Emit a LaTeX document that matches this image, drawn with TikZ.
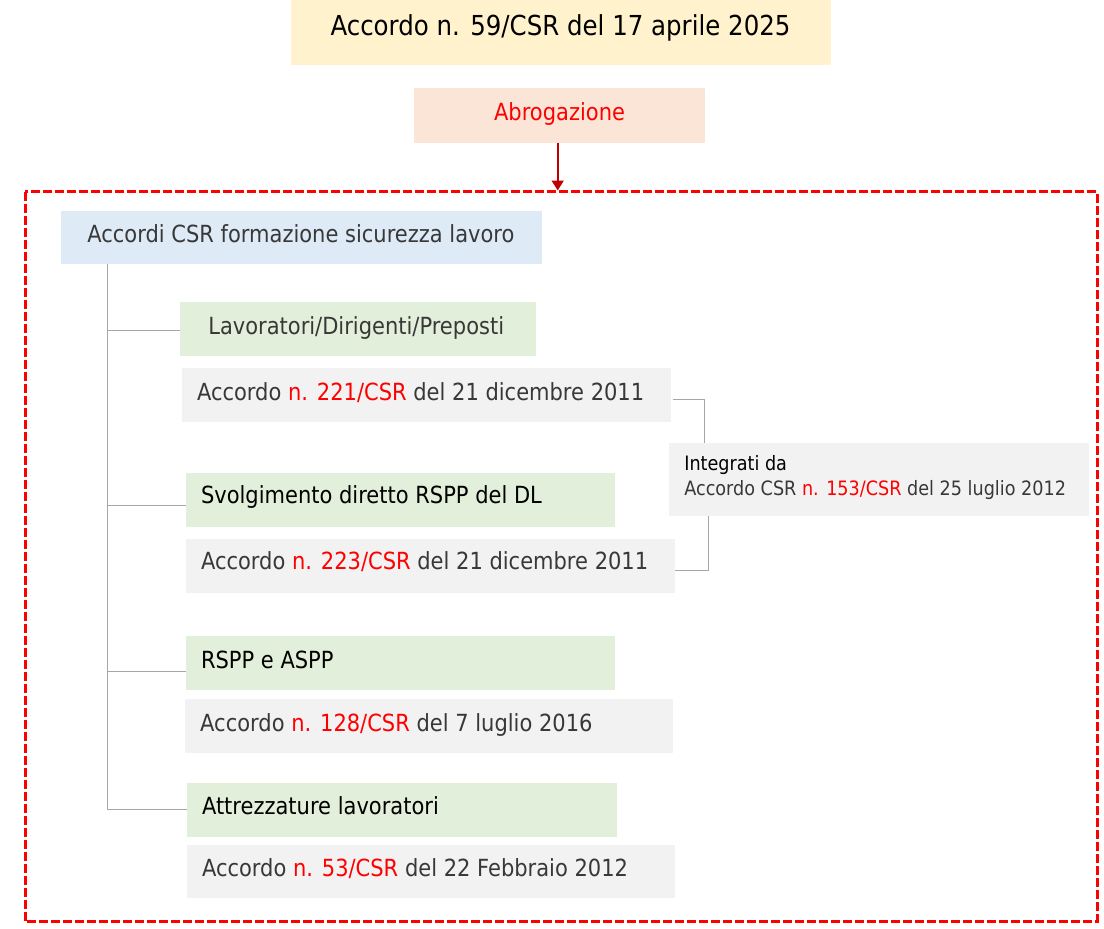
\documentclass[tikz,border=0pt]{standalone}
\usepackage{fontspec}
\setmainfont{DejaVu Sans}[FakeStretch=0.89]
\usetikzlibrary{arrows.meta}
\definecolor{cTitle}{HTML}{FFF2CC}
\definecolor{cAbr}{HTML}{FBE5D6}
\definecolor{cBlue}{HTML}{DEEBF7}
\definecolor{cGreen}{HTML}{E2EFDA}
\definecolor{cGray}{HTML}{F2F2F2}
\definecolor{tGray}{HTML}{383838}
\definecolor{cRed}{HTML}{FF0000}
\definecolor{cDark}{HTML}{C00000}
\definecolor{cLine}{HTML}{A6A6A6}
\tikzset{
  bx/.style={rectangle, draw=none, inner sep=0pt, outer sep=0pt, anchor=north west},
  tx/.style={inner sep=0pt, outer sep=0pt, anchor=base west, font=\fontsize{23.6}{28}\selectfont},
  smalltx/.style={tx, font=\fontsize{19.8}{24}\selectfont},
  treeline/.style={draw=cLine, line width=1pt},
  frame/.style={draw=cRed, line width=3pt, dash pattern=on 9pt off 3pt},
}
\newcommand{\rd}[1]{\textcolor{cRed}{#1}}
\begin{document}
\begin{tikzpicture}[x=1pt, y=-1pt]
\useasboundingbox (0,0) rectangle (1104,929);
% frame
\draw[frame] (25,191.7) rectangle (1097,921.3);
% title
\node[bx, fill=cTitle, minimum width=540pt, minimum height=65.3pt] (title) at (291,0) {};
\node[tx, anchor=base, font=\fontsize{27.5}{32}\selectfont] (titleT) at (560.5,35) {Accordo n. 59/CSR del 17 aprile 2025};
% abrogazione
\node[bx, fill=cAbr, minimum width=291pt, minimum height=54.4pt] (abr) at (414,88.3) {};
\node[tx, anchor=base, text=cRed] (abrT) at (559.5,120) {Abrogazione};
\coordinate (arrEnd) at (557.7,190.5);
\draw[cDark, line width=1.8pt, -{Triangle[width=12pt,length=10pt]}] (abr.south -| arrEnd) -- (arrEnd);
% root
\node[bx, fill=cBlue, minimum width=481pt, minimum height=53.3pt] (root) at (61,211) {};
\node[tx, text=tGray] (rootT) at (87.3,242.7) {Accordi CSR formazione sicurezza lavoro};
% level boxes
\node[bx, fill=cGreen, minimum width=356pt, minimum height=53.4pt] (lav) at (180,302.3) {};
\node[tx, text=tGray] (lavT) at (208.3,334) {Lavoratori/Dirigenti/Preposti};
\node[bx, fill=cGray, minimum width=489pt, minimum height=53.7pt] (a221) at (181.7,368) {};
\node[tx, text=tGray] (a221T) at (197,400) {Accordo \rd{n. 221/CSR} del 21 dicembre 2011};

\node[bx, fill=cGreen, minimum width=428.7pt, minimum height=53.7pt] (svol) at (186,473) {};
\node[tx, text=black] (svolT) at (201,503.3) {Svolgimento diretto RSPP del DL};
\node[bx, fill=cGray, minimum width=489pt, minimum height=53.7pt] (a223) at (186,539) {};
\node[tx, text=tGray] (a223T) at (201,569.3) {Accordo \rd{n. 223/CSR} del 21 dicembre 2011};

\node[bx, fill=cGreen, minimum width=428.7pt, minimum height=53.7pt] (rspp) at (186,636) {};
\node[tx, text=black] (rsppT) at (201,668.3) {RSPP e ASPP};
\node[bx, fill=cGray, minimum width=488pt, minimum height=53.7pt] (a128) at (185,699) {};
\node[tx, text=tGray] (a128T) at (200.2,731.7) {Accordo \rd{n. 128/CSR} del 7 luglio 2016};

\node[bx, fill=cGreen, minimum width=429.7pt, minimum height=53.4pt] (attr) at (187,783.3) {};
\node[tx, text=black] (attrT) at (202,814) {Attrezzature lavoratori};
\node[bx, fill=cGray, minimum width=488pt, minimum height=53.3pt] (a53) at (187,845) {};
\node[tx, text=tGray] (a53T) at (202,876.7) {Accordo \rd{n. 53/CSR} del 22 Febbraio 2012};

% integrati
\node[bx, fill=cGray, minimum width=420pt, minimum height=73pt] (integ) at (669,442.7) {};
\node[smalltx, text=black] (integT1) at (684.3,470) {Integrati da};
\node[smalltx, text=tGray] (integT2) at (684.3,495.7) {Accordo CSR \rd{n. 153/CSR} del 25 luglio 2012};

% tree
\coordinate (trunkTop) at (107.3,264.3);
\coordinate (j1) at (107.3,330.3);
\coordinate (j2) at (107.3,505);
\coordinate (j3) at (107.3,671.3);
\coordinate (j4) at (107.3,809.3);
\draw[treeline] (trunkTop) -- (j4);
\draw[treeline] (j1) -- (j1 -| lav.west);
\draw[treeline] (j2) -- (j2 -| svol.west);
\draw[treeline] (j3) -- (j3 -| rspp.west);
\draw[treeline] (j4) -- (j4 -| attr.west);
% brackets
\coordinate (b1) at (704.3,399.3);
\coordinate (b2) at (708.7,570.3);
\draw[treeline] ([xshift=2pt]a221.east |- b1) -- (b1) -- (b1 |- integ.north);
\draw[treeline] (a223.east |- b2) -- (b2) -- (b2 |- integ.south);
\end{tikzpicture}
\end{document}
